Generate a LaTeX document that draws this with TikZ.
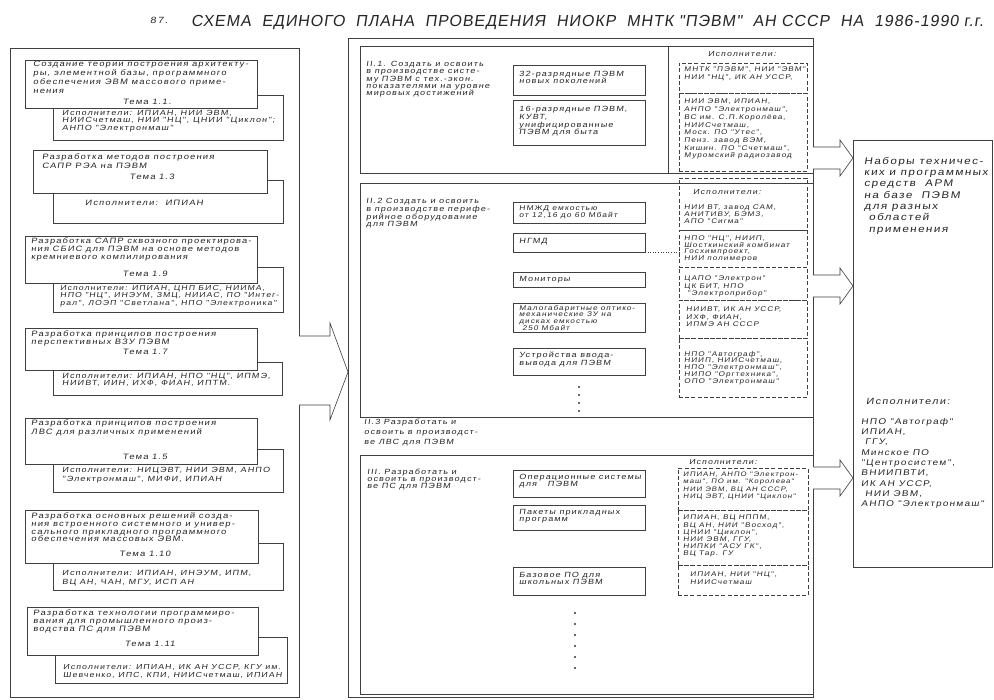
\documentclass[tikz,border=0pt]{standalone}
\usepackage{fontspec}
\newfontfamily\hwf{Liberation Sans}[FakeSlant=0.15,FakeStretch=1.2,LetterSpace=15]
\newfontfamily\hwtitle{Liberation Sans}[FakeSlant=0.15,LetterSpace=6]
\newcommand\mybox[6][]{\node[#1, inner sep=0pt, outer sep=0pt, anchor=north west, minimum width={(#5)-(#3)}, minimum height={(#6)-(#4)}] (#2) at (#3,#4) {};}
\newcommand\harrow[1]{\draw[ln, fill=white] (813,{#1-11}) -- (840,{#1-11}) -- (840,{#1-18}) -- (853,#1) -- (840,{#1+18}) -- (840,{#1+11}) -- (813,{#1+11});}
\begin{document}
\begin{tikzpicture}[x=1pt,y=-1pt,
  ln/.style={draw=black!75, line width=0.6pt},
  fr/.style={ln, fill=white},
  dsh/.style={draw=black!75, line width=0.55pt, dash pattern=on 4pt off 2.2pt},
  tx/.style n args={2}{font={\hwf\fontsize{#1}{#2}\selectfont}, align=left, anchor=north west, inner sep=0pt, text=black!85},
  dot/.style={circle, fill=black!80, inner sep=0pt, minimum size=2.2pt}
]
\fill[white] (0,0) rectangle (994,700);
\useasboundingbox (0,0) rectangle (994,700);

% title
\node[tx={9}{10}, anchor=west] (num) at (150,20) {87.};
\node[font={\hwtitle\fontsize{16}{17}\selectfont}, text=black!85, anchor=west, inner sep=0pt] (title) at (191,23) {СХЕМА\ \ ЕДИНОГО\ \ ПЛАНА\ \ ПРОВЕДЕНИЯ\ \ НИОКР\ \ МНТК "ПЭВМ"\ \ АН СССР\ \ НА\ \ 1986-1990 г.г.};

% ===== left frame =====
\mybox[ln]{left}{10}{48}{299}{697}

% topic 1.1
\mybox[ln]{b1}{53}{95}{283}{140}
\mybox[fr]{f1}{25}{60}{257}{108}
\node[tx={7.8}{8.8}] (t1) at (33,61) {Создание теории построения архитекту-\\ры, элементной базы, программного\\обеспечения ЭВМ массового приме-\\нения};
\node[tx={7.8}{8.8}, anchor=center] (n1) at (147,102) {Тема 1.1.};
\node[tx={7.5}{7.3}] (e1) at (62,110) {Исполнители: ИПИАН, НИИ ЭВМ,\\НИИСчетмаш, НИИ "НЦ", ЦНИИ "Циклон";\\АНПО "Электронмаш"};

% topic 1.3
\mybox[ln]{b2}{53}{180}{283}{223}
\mybox[fr]{f2}{33}{150}{267}{193}
\node[tx={7.8}{9}] (t2) at (42,154) {Разработка методов построения\\САПР РЭА на ПЭВМ};
\node[tx={7.8}{9}, anchor=center] (n2) at (152,177) {Тема 1.3};
\node[tx={7.8}{9}, anchor=west] (e2) at (85,203) {Исполнители:\ \ ИПИАН};

% topic 1.9
\mybox[ln]{b3}{53}{267}{283}{312}
\mybox[fr]{f3}{25}{236}{257}{283}
\node[tx={7.7}{7.8}] (t3) at (31,238) {Разработка САПР сквозного проектирова-\\ния СБИС для ПЭВМ на основе методов\\кремниевого компилирования};
\node[tx={7.8}{8}, anchor=center] (n3) at (145,274) {Тема 1.9};
\node[tx={7.2}{7.5}] (e3) at (60,285) {Исполнители: ИПИАН, ЦНП БИС, НИИМА,\\НПО "НЦ", ИНЭУМ, ЗМЦ, НИИАС, ПО "Интег-\\рал", ЛОЭП "Светлана", НПО "Электроника"};

% topic 1.7
\mybox[ln]{b4}{53}{362}{282}{395}
\mybox[fr]{f4}{25}{328}{257}{370}
\node[tx={7.8}{7.8}] (t4) at (31,331) {Разработка принципов построения\\перспективных ВЗУ ПЭВМ};
\node[tx={7.8}{8}, anchor=center] (n4) at (145,352) {Тема 1.7};
\node[tx={7.5}{7.5}] (e4) at (62,373) {Исполнители: ИПИАН, НПО "НЦ", ИПМЭ,\\НИИВТ, ИИН, ИХФ, ФИАН, ИПТМ.};

% topic 1.5
\mybox[ln]{b5}{53}{449}{283}{492}
\mybox[fr]{f5}{25}{418}{257}{464}
\node[tx={7.8}{9}] (t5) at (31,420) {Разработка принципов построения\\ЛВС для различных применений};
\node[tx={7.8}{9}, anchor=center] (n5) at (145,457) {Тема 1.5};
\node[tx={7.5}{9}] (e5) at (62,467) {Исполнители: НИЦЭВТ, НИИ ЭВМ, АНПО\\"Электронмаш", МИФИ, ИПИАН};

% topic 1.10
\mybox[ln]{b6}{53}{543}{283}{590}
\mybox[fr]{f6}{25}{510}{258}{563}
\node[tx={7.8}{7.6}] (t6) at (31,513) {Разработка основных решений созда-\\ния встроенного системного и универ-\\сального прикладного программного\\обеспечения массовых ЭВМ.};
\node[tx={7.8}{8}, anchor=center] (n6) at (145,554) {Тема 1.10};
\node[tx={7.5}{9}] (e6) at (62,570) {Исполнители: ИПИАН, ИНЭУМ, ИПМ,\\ВЦ АН, ЧАН, МГУ, ИСП АН};

% topic 1.11
\mybox[ln]{b7}{55}{637}{287}{683}
\mybox[fr]{f7}{27}{607}{258}{655}
\node[tx={7.8}{8}] (t7) at (33,610) {Разработка технологии программиро-\\вания для промышленного произ-\\водства ПС для ПЭВМ};
\node[tx={7.8}{8}, anchor=center] (n7) at (150,644) {Тема 1.11};
\node[tx={7.3}{8}] (e7) at (63,664) {Исполнители: ИПИАН, ИК АН УССР, КГУ им.\\Шевченко, ИПС, КПИ, НИИСчетмаш, ИПИАН};

% big arrow left -> middle
\draw[ln, fill=white] (left.east |- 0,336) -- (330,336) -- (330,323) -- (348,372) -- (330,420) -- (330,405) -- (left.east |- 0,405);

% ===== middle frame =====
\mybox[ln]{mid}{348}{38}{813}{697}
\mybox[ln]{s1}{360}{46}{813}{173}
\mybox[ln]{s2}{360}{183}{813}{417}
\mybox[ln]{s3}{360}{455}{813}{694}

% section II.1
\node[tx={7.5}{7.3}] (s1t) at (366,61) {II.1. Создать и освоить\\в производстве систе-\\му ПЭВМ с тех.-экон.\\показателями на уровне\\мировых достижений};
\mybox[ln]{i11}{513}{65}{645}{95}
\node[tx={7.5}{7.5}] (i11t) at (519,71) {32-разрядные ПЭВМ\\новых поколений};
\mybox[ln]{i12}{513}{100}{645}{145}
\node[tx={7.5}{7.8}] (i12t) at (519,106) {16-разрядные ПЭВМ,\\КУВТ,\\унифицированные\\ПЭВМ для быта};
\mybox[ln]{col1}{668}{46}{813}{173}
\node[tx={7.3}{8}, anchor=center] (h1) at (742,54) {Исполнители:};
\mybox[dsh]{d11}{679}{63}{807}{93}
\node[tx={6.8}{7.5}] (d11t) at (684,67) {МНТК "ПЭВМ", НИИ "ЭВМ",\\НИИ "НЦ", ИК АН УССР,};
\mybox[dsh]{d12}{679}{93}{807}{171}
\node[tx={6.8}{7.7}] (d12t) at (684,99) {НИИ ЭВМ, ИПИАН,\\АНПО "Электронмаш",\\ВС им. С.П.Королёва,\\НИИСчетмаш,\\Моск. ПО "Утес",\\Пенз. завод ВЭМ,\\Кишин. ПО "Счетмаш",\\Муромский радиозавод};

% section II.2
\node[tx={7.5}{6.8}] (s2t) at (366,198) {II.2 Создать и освоить\\в производстве перифе-\\рийное оборудование\\для ПЭВМ};
\mybox[ln]{i21}{513}{202}{645}{223}
\node[tx={7}{7.5}] (i21t) at (519,205) {НМЖД емкостью\\от 12,16 до 60 Мбайт};
\mybox[ln]{i22}{513}{233}{645}{252}
\node[tx={7.5}{8}] (i22t) at (519,238) {НГМД};
\mybox[ln]{i23}{513}{272}{645}{287}
\node[tx={7.5}{8}] (i23t) at (519,276) {Мониторы};
\mybox[ln]{i24}{513}{303}{645}{332}
\node[tx={6.8}{6.7}] (i24t) at (519,305) {Малогабаритные оптико-\\механические ЗУ на\\дисках емкостью\\\ 250 Мбайт};
\mybox[ln]{i25}{513}{348}{645}{375}
\node[tx={7.5}{8}] (i25t) at (519,352) {Устройства ввода-\\вывода для ПЭВМ};
\foreach \yy [count=\k] in {387,395,403,411} \node[dot] (dd\k) at (579,\yy) {};

\mybox[dsh]{d21}{679}{178}{807}{230}
\node[tx={7.3}{8}, anchor=center] (h2) at (727,192) {Исполнители:};
\node[tx={6.8}{7}] (d21t) at (684,205) {НИИ ВТ, завод САМ,\\АНИТИВУ, БЭМЗ,\\АПО "Сигма"};
\mybox[dsh]{d22}{679}{230}{807}{267}
\node[tx={6.8}{6.5}] (d22t) at (684,236) {НПО "НЦ", НИИП,\\Шосткинский комбинат\\Госхимпроект,\\НИИ полимеров};
\mybox[dsh]{d23}{679}{267}{807}{300}
\node[tx={6.8}{7.2}] (d23t) at (684,276) {ЦАПО "Электрон"\\ЦК БИТ, НПО\\\ "Электроприбор"};
\mybox[dsh]{d24}{679}{300}{807}{338}
\node[tx={6.8}{7.5}] (d24t) at (686,307) {НИИВТ, ИК АН УССР,\\ИХФ, ФИАН,\\ИПМЭ АН СССР};
\mybox[dsh]{d25}{679}{338}{807}{397}
\node[tx={6.8}{6.8}] (d25t) at (684,351) {НПО "Автограф",\\НИИП, НИИСчетмаш,\\НПО "Электронмаш",\\НИПО "Оргтехника",\\ОПО "Электронмаш"};
\draw[black!75, line width=0.6pt, dotted] (i22.south east) -- (i22.south east -| d22.west);

% section II.3 (text only)
\node[tx={7.5}{10}] (s23t) at (364,419) {II.3 Разработать и\\освоить в производст-\\ве ЛВС для ПЭВМ};

% section III
\node[tx={7.5}{7}] (s3t) at (367,469) {III. Разработать и\\освоить в производст-\\ве ПС для ПЭВМ};
\mybox[ln]{i31}{513}{470}{645}{497}
\node[tx={7.5}{7.5}] (i31t) at (519,474) {Операционные системы\\для\ \ \ ПЭВМ};
\mybox[ln]{i32}{513}{505}{645}{530}
\node[tx={7.5}{7.5}] (i32t) at (519,509) {Пакеты прикладных\\программ};
\mybox[ln]{i33}{513}{567}{645}{595}
\node[tx={7.5}{7.5}] (i33t) at (519,572) {Базовое ПО для\\школьных ПЭВМ};
\foreach \yy [count=\k] in {613,624,635,646,657,668} \node[dot] (de\k) at (575,\yy) {};

\node[tx={7.3}{8}, anchor=center] (h3) at (723,462) {Исполнители:};
\mybox[dsh]{d31}{678}{468}{808}{510}
\node[tx={6.5}{7.2}] (d31t) at (683,472) {ИПИАН, АНПО "Электрон-\\маш", ПО им. "Королева"\\НИИ ЭВМ, ВЦ АН СССР,\\НИЦ ЭВТ, ЦНИИ "Циклон"};
\mybox[dsh]{d32}{678}{510}{808}{565}
\node[tx={6.8}{7.2}] (d32t) at (683,515) {ИПИАН, ВЦ НППМ,\\ВЦ АН, НИИ "Восход",\\ЦНИИ "Циклон",\\НИИ ЭВМ, ГГУ,\\НИПКИ "АСУ ГК",\\ВЦ Тар. ГУ};
\mybox[dsh]{d33}{678}{565}{808}{595}
\node[tx={6.8}{8}] (d33t) at (690,572) {ИПИАН, НИИ "НЦ",\\НИИСчетмаш};

% ===== right arrows and box =====
\harrow{158}
\harrow{286}
\harrow{478}
\mybox[ln]{res}{853}{140}{992}{567}
\node[tx={9.7}{11.3}] (rest) at (864,157) {Наборы техничес-\\ких и программных\\средств\ \ АРМ\\на базе\ \ ПЭВМ\\для разных\\\ областей\\\ применения};
\node[tx={9}{10}] (resh) at (866,398) {Исполнители:};
\node[tx={8.3}{10.3}] (resl) at (861,418) {НПО "Автограф"\\ИПИАН,\\\ ГГУ,\\Минское ПО\\"Центросистем",\\ВНИИПВТИ,\\ИК АН УССР,\\\ НИИ ЭВМ,\\АНПО "Электронмаш"};
\end{tikzpicture}
\end{document}
